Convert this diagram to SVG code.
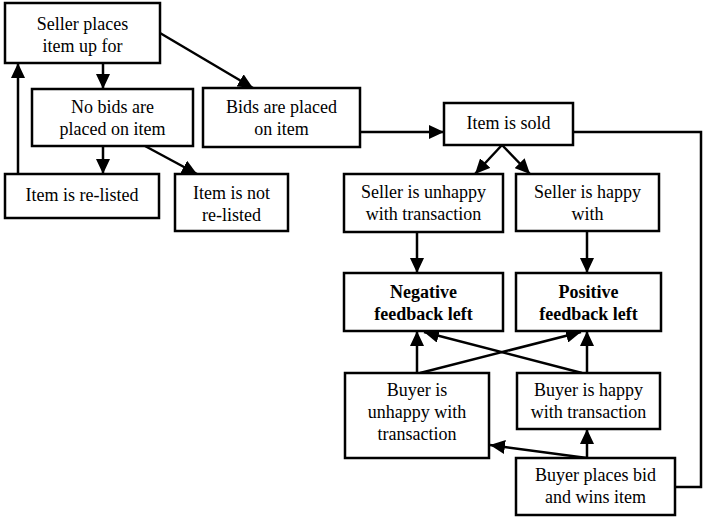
<svg xmlns="http://www.w3.org/2000/svg" width="704" height="518" viewBox="0 0 704 518">
<style>
.box{fill:#fff;stroke:#000;stroke-width:2.5}
.t{font-family:"Liberation Serif","Times New Roman",serif;font-size:18px;text-anchor:middle;fill:#000}
.b{font-weight:bold}
.c{fill:none;stroke:#000;stroke-width:2.5}
</style>
<defs>
<marker id="ah" viewBox="0 0 15 14" refX="15" refY="7" markerWidth="15" markerHeight="14" markerUnits="userSpaceOnUse" orient="auto">
<path d="M0 0 L15 7 L0 14 Z" fill="#000"/>
</marker>
</defs>
<rect width="704" height="518" fill="#fff"/>
<g id="connectors">
<path class="c" d="M103 63 V89" marker-end="url(#ah)"/>
<path class="c" d="M160 33 L253 88" marker-end="url(#ah)"/>
<path class="c" d="M103 146 V174" marker-end="url(#ah)"/>
<path class="c" d="M145 146 L197 174" marker-end="url(#ah)"/>
<path class="c" d="M18 174 V63" marker-end="url(#ah)"/>
<path class="c" d="M360 132 H444" marker-end="url(#ah)"/>
<path class="c" d="M502 145 L475 174" marker-end="url(#ah)"/>
<path class="c" d="M502 145 L530 174" marker-end="url(#ah)"/>
<path class="c" d="M417 232 V273" marker-end="url(#ah)"/>
<path class="c" d="M587 231 V273" marker-end="url(#ah)"/>
<path class="c" d="M417 373 V331" marker-end="url(#ah)"/>
<path class="c" d="M587 373 V331" marker-end="url(#ah)"/>
<path class="c" d="M420 373 L581 332" marker-end="url(#ah)"/>
<path class="c" d="M582 373 L424 332" marker-end="url(#ah)"/>
<path class="c" d="M587 458 V429" marker-end="url(#ah)"/>
<path class="c" d="M587 458 L490 445" marker-end="url(#ah)"/>
<path class="c" d="M573 132 H701 V487 H675"/>
</g>
<g id="seller-places">
<rect class="box" x="5" y="3" width="155" height="60"/>
<text class="t" x="82.5" y="30">Seller places</text>
<text class="t" x="82.5" y="52">item up for</text>
</g>
<g id="no-bids">
<rect class="box" x="32" y="89" width="161" height="57"/>
<text class="t" x="112.5" y="113">No bids are</text>
<text class="t" x="112.5" y="135">placed on item</text>
</g>
<g id="bids-placed">
<rect class="box" x="203" y="88" width="157" height="59"/>
<text class="t" x="281.5" y="113">Bids are placed</text>
<text class="t" x="281.5" y="135">on item</text>
</g>
<g id="relisted">
<rect class="box" x="5" y="174" width="154" height="44"/>
<text class="t" x="82" y="201">Item is re-listed</text>
</g>
<g id="not-relisted">
<rect class="box" x="175" y="174" width="113" height="57"/>
<text class="t" x="231.5" y="199">Item is not</text>
<text class="t" x="231.5" y="221">re-listed</text>
</g>
<g id="item-sold">
<rect class="box" x="444" y="103" width="129" height="42"/>
<text class="t" x="508.5" y="129">Item is sold</text>
</g>
<g id="seller-unhappy">
<rect class="box" x="344" y="174" width="159" height="58"/>
<text class="t" x="423.5" y="198">Seller is unhappy</text>
<text class="t" x="423.5" y="220">with transaction</text>
</g>
<g id="seller-happy">
<rect class="box" x="516" y="174" width="143" height="57"/>
<text class="t" x="587.5" y="198">Seller is happy</text>
<text class="t" x="587.5" y="220">with</text>
</g>
<g id="negative">
<rect class="box" x="344" y="273" width="159" height="58"/>
<text class="t b" x="423.5" y="298">Negative</text>
<text class="t b" x="423.5" y="320">feedback left</text>
</g>
<g id="positive">
<rect class="box" x="516" y="273" width="145" height="58"/>
<text class="t b" x="588.5" y="298">Positive</text>
<text class="t b" x="588.5" y="320">feedback left</text>
</g>
<g id="buyer-unhappy">
<rect class="box" x="345" y="373" width="144" height="85"/>
<text class="t" x="417" y="396">Buyer is</text>
<text class="t" x="417" y="418">unhappy with</text>
<text class="t" x="417" y="440">transaction</text>
</g>
<g id="buyer-happy">
<rect class="box" x="517" y="373" width="143" height="56"/>
<text class="t" x="588.5" y="396">Buyer is happy</text>
<text class="t" x="588.5" y="418">with transaction</text>
</g>
<g id="buyer-places">
<rect class="box" x="516" y="458" width="159" height="57"/>
<text class="t" x="595.5" y="481">Buyer places bid</text>
<text class="t" x="595.5" y="503">and wins item</text>
</g>
</svg>
